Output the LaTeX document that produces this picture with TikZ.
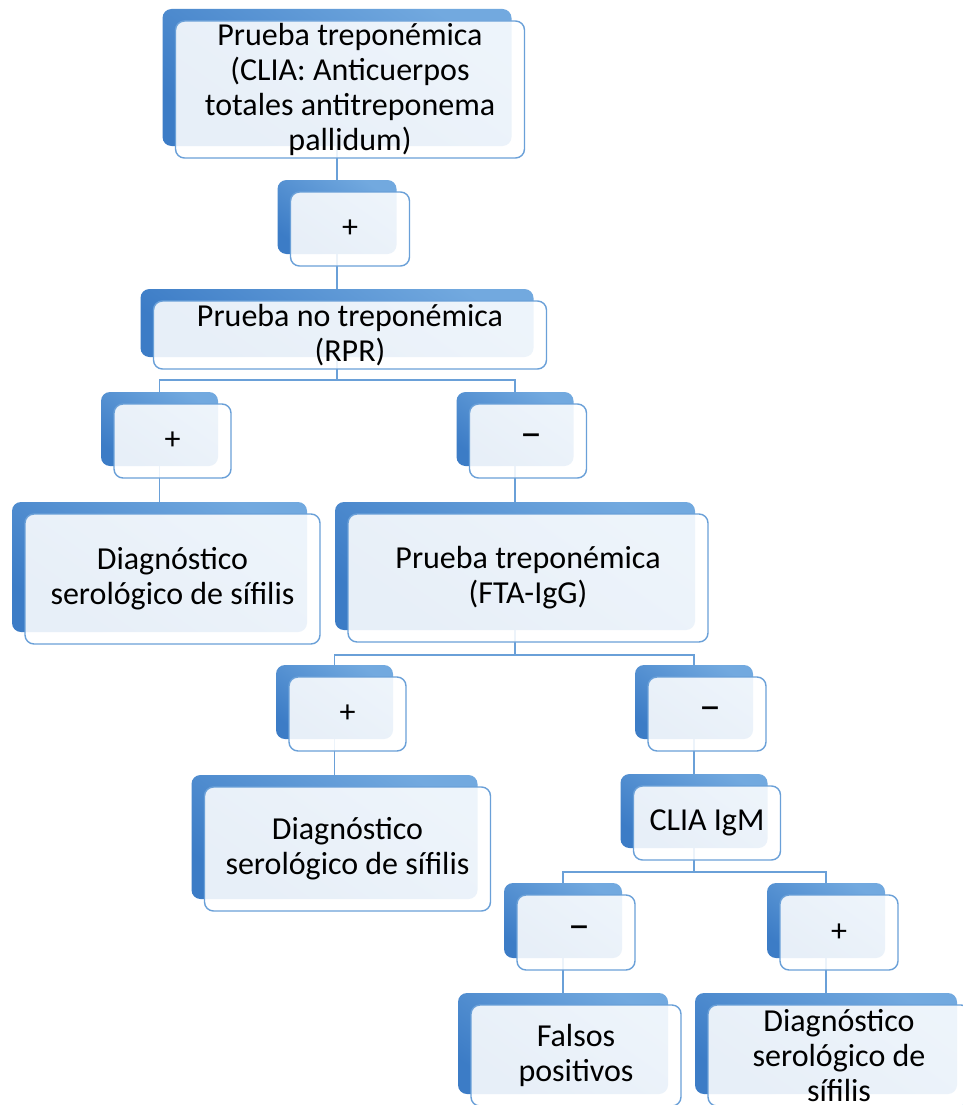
\documentclass[tikz,border=0pt]{standalone}
\usepackage{fontspec}
\setmainfont{Carlito}
\usetikzlibrary{backgrounds}
\definecolor{bl}{RGB}{114,169,223}
\definecolor{bd}{RGB}{60,124,198}
\definecolor{ln}{RGB}{106,160,216}
\newcommand\smelem[6]{%
  \node[backbox, minimum width=#4pt, minimum height=#5pt] (#1) at (#2,#3) {};
  \node[frontbox, minimum width=#4pt, minimum height=#5pt] (#1-f) at ([shift={(13,12)}]#1.center) {};
  \node[txt] (#1-t) at (#1-f.center) {#6};
}
\newcommand\smdash{\kern7pt{\fontsize{44}{44}\selectfont –}}
\begin{document}
\begin{tikzpicture}[x=1pt,y=-1pt,
  backbox/.style={rounded corners=9pt, draw=none, inner sep=0pt, top color=bl, bottom color=bd, shading angle=-35},
  frontbox/.style={rounded corners=9pt, draw=ln, line width=1.4pt, fill=white, fill opacity=0.88, inner sep=0pt},
  txt/.style={align=center, inner sep=0pt, font=\fontsize{32}{35}\selectfont, text=black},
  conn/.style={draw=ln, line width=1.4pt}]
\useasboundingbox (0,0) rectangle (963,1105);
\smelem{top}{337}{77.5}{349}{137}{Prueba treponémica\\(CLIA: Anticuerpos\\totales antitreponema\\pallidum)}
\smelem{p1}{337}{217}{119}{74}{+}
\smelem{rpr}{337}{323}{393}{68}{Prueba no treponémica\\(RPR)}
\smelem{p2}{159.5}{429}{117}{74}{+}
\smelem{m1}{515}{429}{117}{74}{\smdash}
\smelem{d1}{159.5}{567}{295}{130}{Diagnóstico\\serológico de sífilis}
\smelem{fta}{515}{566}{360}{128}{Prueba treponémica\\(FTA-IgG)}
\smelem{p3}{334.5}{702}{117}{74}{+}
\smelem{m2}{694}{702}{118}{74}{\smdash}
\smelem{d2}{334.5}{837}{286}{124}{Diagnóstico\\serológico de sífilis}
\smelem{clia}{694}{811}{147}{74}{CLIA IgM}
\smelem{m3}{563}{920.5}{118}{75}{\smdash}
\smelem{p4}{826}{920.5}{118}{75}{+}
\smelem{fp}{563}{1043.5}{210}{101}{Falsos\\positivos}
\smelem{d3}{826}{1043.5}{262}{101}{Diagnóstico\\serológico de\\sífilis}
\begin{scope}[on background layer]
  \fill[white] (0,0) rectangle (963,1105);
  \coordinate (b1) at (0,380);
  \coordinate (b2) at (0,655);
  \coordinate (b3) at (0,872);
  \draw[conn] (top) -- (p1);
  \draw[conn] (p1) -- (rpr);
  \draw[conn] (rpr.center) -- (rpr.center |- b1) -| (p2.center);
  \draw[conn] (rpr.center |- b1) -| (m1.center);
  \draw[conn] (p2) -- (d1);
  \draw[conn] (m1) -- (fta);
  \draw[conn] (fta.center) -- (fta.center |- b2) -| (p3.center);
  \draw[conn] (fta.center |- b2) -| (m2.center);
  \draw[conn] (p3) -- (d2);
  \draw[conn] (m2) -- (clia);
  \draw[conn] (clia.center) -- (clia.center |- b3) -| (m3.center);
  \draw[conn] (clia.center |- b3) -| (p4.center);
  \draw[conn] (m3) -- (fp);
  \draw[conn] (p4) -- (d3);
\end{scope}
\end{tikzpicture}
\end{document}
